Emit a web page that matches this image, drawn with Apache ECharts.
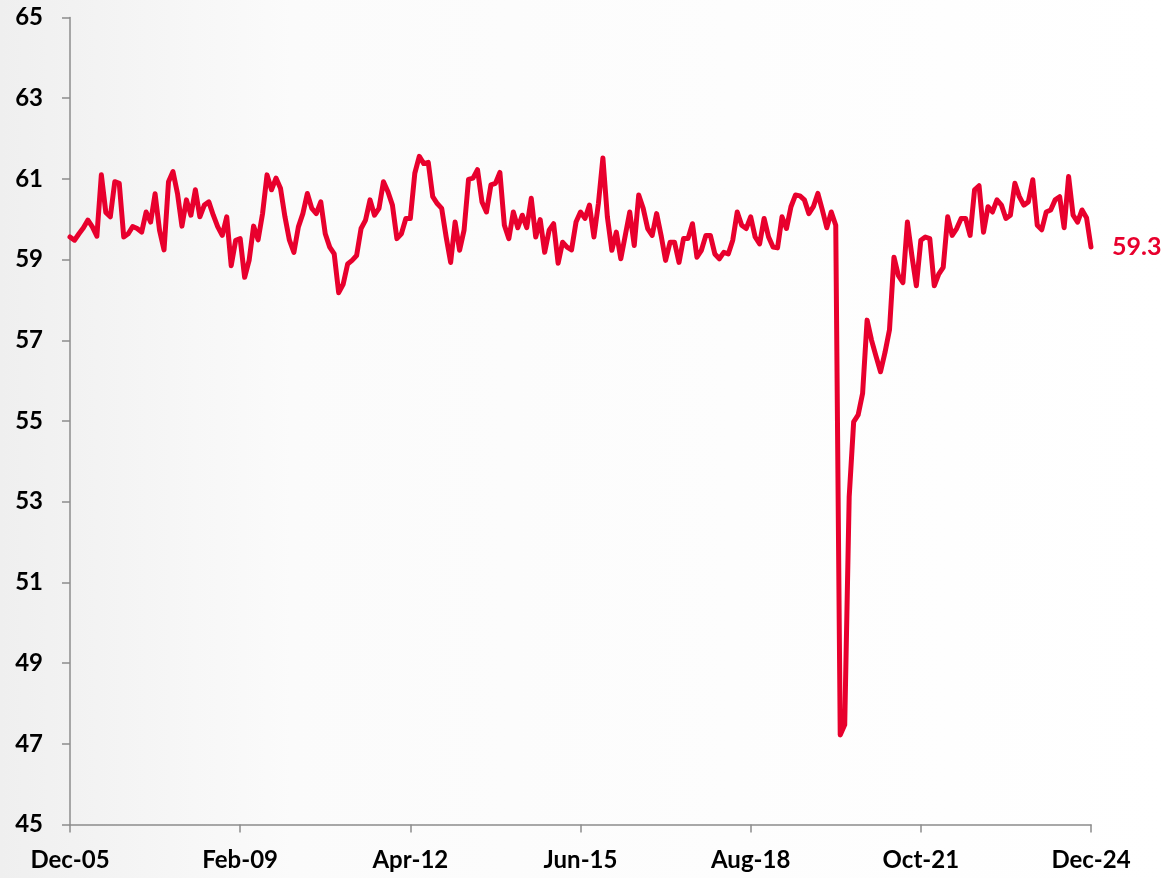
<!DOCTYPE html>
<html>
<head>
<meta charset="utf-8">
<script src="https://cdn.jsdelivr.net/npm/echarts@6/dist/echarts.min.js"></script>
<style>
  html, body { margin: 0; padding: 0; }
  #main { width: 1168px; height: 878px; }
</style>
</head>
<body>
<div id="main"></div>
<script>
// monthly, Dec-05 .. Dec-24
var startYear = 2005;
var startMonth = 11; // December (0-based)
var monthNames = ['Jan', 'Feb', 'Mar', 'Apr', 'May', 'Jun', 'Jul', 'Aug', 'Sep', 'Oct', 'Nov', 'Dec'];

var values = [
    59.56, 59.48, 59.64, 59.79, 59.98, 59.81, 59.58, 61.10, 60.17, 60.06,
    60.93, 60.89, 59.56, 59.64, 59.82, 59.77, 59.68, 60.18, 59.93, 60.63,
    59.72, 59.24, 60.93, 61.18, 60.64, 59.83, 60.48, 60.10, 60.73, 60.06,
    60.35, 60.43, 60.10, 59.81, 59.60, 60.06, 58.85, 59.48, 59.52, 58.56,
    58.98, 59.83, 59.49, 60.14, 61.10, 60.73, 61.02, 60.77, 60.06, 59.48,
    59.18, 59.81, 60.14, 60.64, 60.27, 60.14, 60.43, 59.64, 59.31, 59.14,
    58.18, 58.39, 58.89, 58.98, 59.10, 59.77, 59.98, 60.48, 60.10, 60.27,
    60.93, 60.68, 60.35, 59.52, 59.64, 60.02, 60.02, 61.14, 61.56, 61.38,
    61.41, 60.56, 60.39, 60.27, 59.56, 58.93, 59.93, 59.23, 59.73, 60.99,
    61.02, 61.23, 60.43, 60.18, 60.85, 60.89, 61.16, 59.85, 59.52, 60.18,
    59.79, 60.10, 59.79, 60.52, 59.56, 59.99, 59.18, 59.73, 59.89, 58.91,
    59.43, 59.31, 59.24, 59.93, 60.18, 60.02, 60.35, 59.56, 60.39, 61.52,
    60.06, 59.23, 59.68, 59.02, 59.60, 60.18, 59.35, 60.60, 60.27, 59.77,
    59.60, 60.14, 59.60, 58.98, 59.43, 59.43, 58.93, 59.52, 59.52, 59.89,
    59.06, 59.23, 59.60, 59.60, 59.14, 59.02, 59.18, 59.14, 59.48, 60.18,
    59.85, 59.77, 60.06, 59.56, 59.39, 60.02, 59.56, 59.31, 59.29, 60.06,
    59.77, 60.31, 60.60, 60.58, 60.48, 60.14, 60.31, 60.64, 60.23, 59.79,
    60.18, 59.85, 47.22, 47.47, 53.12, 54.98, 55.15, 55.69, 57.50, 57.00,
    56.60, 56.22, 56.70, 57.26, 59.06, 58.60, 58.43, 59.93, 59.10, 58.35,
    59.48, 59.56, 59.52, 58.35, 58.64, 58.81, 60.06, 59.60, 59.77, 60.02,
    60.02, 59.60, 60.73, 60.83, 59.68, 60.31, 60.18, 60.48, 60.35, 60.02,
    60.10, 60.89, 60.56, 60.35, 60.43, 60.98, 59.85, 59.74, 60.18, 60.23,
    60.48, 60.56, 59.79, 61.06, 60.10, 59.93, 60.23, 60.04, 59.31
];

var categories = [];
for (var i = 0; i < values.length; i++) {
    var m = startMonth + i;
    var y = startYear + Math.floor(m / 12);
    categories.push(monthNames[m % 12] + '-' + String(y % 100).padStart(2, '0'));
}

var lineColor = '#e8002d';
var axisColor = '#8c8c8c';
var font = 'Lato';

var main = echarts.init(document.getElementById('main'));
var option = {
    backgroundColor: {
        type: 'linear', x: 0, y: 0, x2: 1, y2: 0,
        colorStops: [
            {offset: 0, color: '#efefef'},
            {offset: 0.25, color: '#fbfbfb'},
            {offset: 1, color: '#ffffff'}
        ]
    },
    animation: false,
    grid: {
        left: 70,
        right: 77,
        top: 17.5,
        bottom: 53.5
    },
    xAxis: {
        type: 'category',
        boundaryGap: false,
        data: categories,
        axisLine: {lineStyle: {color: axisColor, width: 1.5}},
        axisTick: {
            show: true,
            interval: 37,
            length: 8,
            lineStyle: {color: axisColor, width: 1.5}
        },
        axisLabel: {
            interval: 37,
            margin: 24,
            color: '#000',
            fontFamily: font,
            fontWeight: 'bold',
            fontSize: 24
        }
    },
    yAxis: {
        type: 'value',
        min: 45,
        max: 65,
        interval: 2,
        splitLine: {show: false},
        axisLine: {show: true, lineStyle: {color: axisColor, width: 1.5}},
        axisTick: {show: true, length: 8, lineStyle: {color: axisColor, width: 1.5}},
        axisLabel: {
            margin: 27,
            color: '#000',
            fontFamily: font,
            fontWeight: 'bold',
            fontSize: 24
        }
    },
    series: [
        {
            type: 'line',
            data: values,
            showSymbol: false,
            smooth: false,
            lineStyle: {color: lineColor, width: 5, cap: 'round', join: 'round'},
            endLabel: {
                show: true,
                distance: 21,
                formatter: function (p) { return p.value.toFixed(1); },
                color: lineColor,
                fontFamily: font,
                fontWeight: 'bold',
                fontSize: 25
            }
        }
    ]
};
main.setOption(option);
</script>
</body>
</html>
